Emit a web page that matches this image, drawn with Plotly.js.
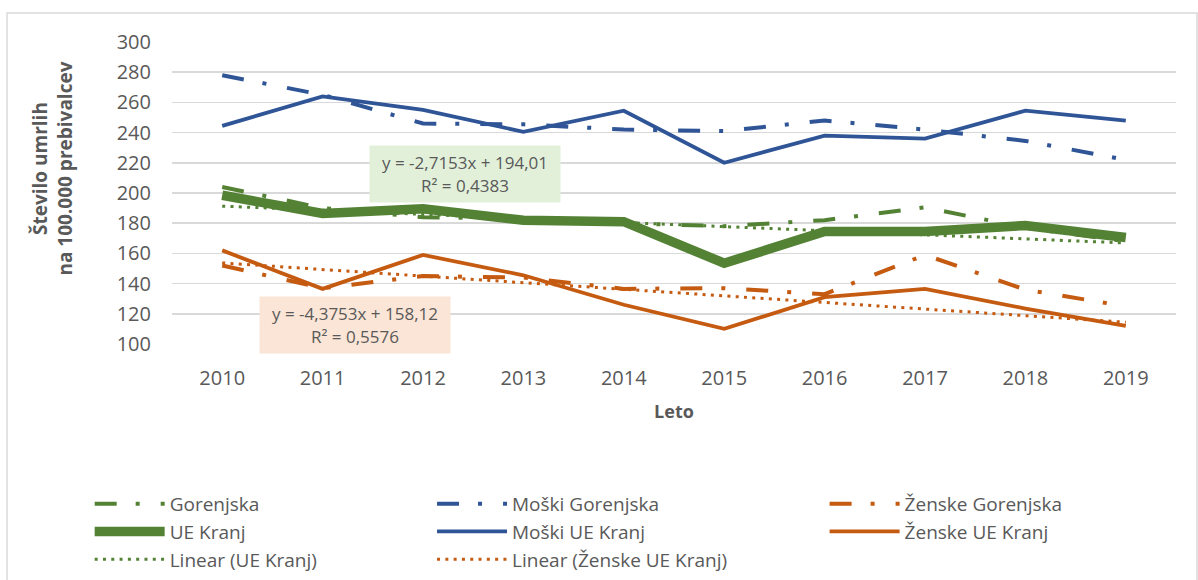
<!DOCTYPE html>
<html>
<head>
<meta charset="utf-8">
<script src="https://cdn.plot.ly/plotly-3.0.1.min.js"></script>
<style>
html,body{margin:0;padding:0;background:#fff;}
#chart{width:1198px;height:580px;}
</style>
</head>
<body>
<div id="chart"></div>
<script>
const years = [2010, 2011, 2012, 2013, 2014, 2015, 2016, 2017, 2018, 2019];
const gorenjska = [204, 190, 184, 183, 180, 178, 182, 190.5, 177, 168];
const moskiGorenjska = [278, 265, 246, 245.5, 242, 241, 248, 242, 234.5, 222];
const zenskeGorenjska = [152, 137, 145, 144, 136.5, 137, 133, 159, 136, 125];
const ueKranj = [198.5, 186.5, 189.5, 182, 181, 153.5, 174.5, 174.5, 178.5, 170.5];
const moskiUEKranj = [244.5, 264, 255, 240.5, 254.5, 220, 238, 236, 254.5, 248];
const zenskeUEKranj = [162, 136.5, 159, 145.5, 126, 110, 131, 136.5, 123.5, 112];
const trendYears = [2010, 2019];
const trendUEKranj = [191.3, 166.9];
const trendZenskeUEKranj = [153.7, 114.4];
const yTicks = [100, 120, 140, 160, 180, 200, 220, 240, 260, 280, 300];
const yTitle = 'Število umrlih<br>na 100.000 prebivalcev';
const xTitle = 'Leto';
const eqUEKranj = 'y = -2,7153x + 194,01<br>R² = 0,4383';
const eqZenskeUEKranj = 'y = -4,3753x + 158,12<br>R² = 0,5576';

const GREEN = '#548235', BLUE = '#2F5597', ORANGE = '#C55A11';
const DASHDOT = '22px,19px,4px,21px';
const DOTS = '3px,5.3px';
const FONT = 'Open Sans, Noto Sans, sans-serif';
const GRAY = '#595959';

const traces = [
  {x: years, y: gorenjska, name: 'Gorenjska', mode: 'lines', legend: 'legend',
   line: {color: GREEN, width: 4, dash: DASHDOT}},
  {x: years, y: moskiGorenjska, name: 'Moški Gorenjska', mode: 'lines', legend: 'legend2',
   line: {color: BLUE, width: 4, dash: DASHDOT}},
  {x: years, y: zenskeGorenjska, name: 'Ženske Gorenjska', mode: 'lines', legend: 'legend3',
   line: {color: ORANGE, width: 4, dash: DASHDOT}},
  {x: years, y: ueKranj, name: 'UE Kranj', mode: 'lines', legend: 'legend',
   line: {color: GREEN, width: 9.5}},
  {x: years, y: moskiUEKranj, name: 'Moški UE Kranj', mode: 'lines', legend: 'legend2',
   line: {color: BLUE, width: 3.8}},
  {x: years, y: zenskeUEKranj, name: 'Ženske UE Kranj', mode: 'lines', legend: 'legend3',
   line: {color: ORANGE, width: 3.8}},
  {x: trendYears, y: trendUEKranj, name: 'Linear (UE Kranj)', mode: 'lines', legend: 'legend',
   line: {color: GREEN, width: 3, dash: DOTS}},
  {x: trendYears, y: trendZenskeUEKranj, name: 'Linear (Ženske UE Kranj)', mode: 'lines', legend: 'legend2',
   line: {color: ORANGE, width: 3, dash: DOTS}}
];

const legendBase = {
  orientation: 'v', xanchor: 'left', yanchor: 'top',
  y: -0.4666,
  font: {family: FONT, size: 19, color: GRAY},
  bgcolor: 'rgba(0,0,0,0)', itemwidth: 70, tracegroupgap: 0,
  itemclick: false, itemdoubleclick: false
};

const layout = {
  width: 1198, height: 580,
  margin: {l: 172, r: 22, t: 42, b: 236, autoexpand: false},
  paper_bgcolor: '#ffffff', plot_bgcolor: '#ffffff',
  font: {family: FONT, color: GRAY},
  showlegend: true,
  xaxis: {
    range: [2009.5, 2019.5], tickmode: 'array', tickvals: years, ticktext: years.map(String),
    showgrid: false, zeroline: false, showline: false, ticks: '', automargin: false,
    ticklabelstandoff: 20,
    tickfont: {family: FONT, size: 20, color: GRAY},
    title: {text: xTitle, font: {family: FONT, size: 18, color: GRAY, weight: 'bold'}, standoff: 15}
  },
  yaxis: {
    range: [100, 300], tickmode: 'array', tickvals: yTicks,
    showgrid: true, gridcolor: '#D9D9D9', gridwidth: 1.6, zeroline: false, showline: false, ticks: '',
    automargin: false, ticklabelstandoff: 20,
    tickfont: {family: FONT, size: 20, color: GRAY}
  },
  legend: Object.assign({}, legendBase, {x: -0.082}),
  legend2: Object.assign({}, legendBase, {x: 0.259}),
  legend3: Object.assign({}, legendBase, {x: 0.65}),
  annotations: [
    {x: -0.1185, y: 0.581, xref: 'paper', yref: 'paper', xanchor: 'center', yanchor: 'middle',
     text: yTitle, showarrow: false, textangle: -90, align: 'center',
     font: {family: FONT, size: 19, color: GRAY, weight: 'bold'}},
    {x: 2012.42, y: 212.6, xref: 'x', yref: 'y', text: eqUEKranj, showarrow: false,
     bgcolor: '#E2F0D9', width: 190, height: 56, borderpad: 0, align: 'center',
     font: {family: FONT, size: 17, color: GRAY}},
    {x: 2011.32, y: 112.9, xref: 'x', yref: 'y', text: eqZenskeUEKranj, showarrow: false,
     bgcolor: '#FBE5D6', width: 190, height: 56, borderpad: 0, align: 'center',
     font: {family: FONT, size: 17, color: GRAY}}
  ],
  shapes: [
    {type: 'rect', xref: 'paper', yref: 'paper', x0: -0.1643, x1: 1.0209, y0: -0.82, y1: 1.096,
     line: {color: '#D9D9D9', width: 1.5}, fillcolor: 'rgba(0,0,0,0)', layer: 'below'}
  ]
};

Plotly.newPlot('chart', traces, layout, {displayModeBar: false, staticPlot: true});
</script>
</body>
</html>
